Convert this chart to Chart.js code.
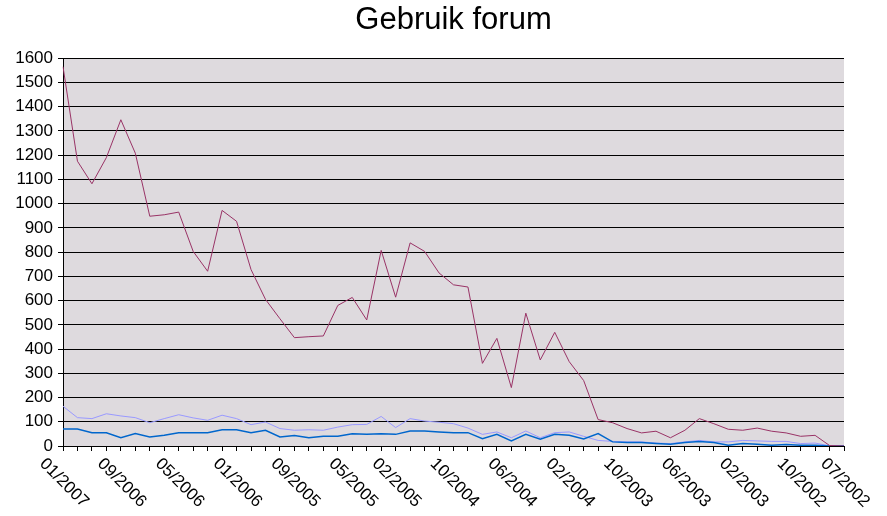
<!DOCTYPE html>
<html>
<head>
<meta charset="utf-8">
<title>Gebruik forum</title>
<script src="https://cdn.jsdelivr.net/npm/chart.js@4/dist/chart.umd.min.js"></script>
<style>
    html, body { margin: 0; padding: 0; background: #ffffff; }
    #wrap { width: 887px; height: 516px; }
</style>
</head>
<body>
<div id="wrap"><canvas id="forumChart" width="887" height="516"></canvas></div>
<script>
// months, newest first (as on the original sheet)
const months = [
    '01/2007',
    '12/2006', '11/2006', '10/2006', '09/2006', '08/2006', '07/2006',
    '06/2006', '05/2006', '04/2006', '03/2006', '02/2006', '01/2006',
    '12/2005', '11/2005', '10/2005', '09/2005', '08/2005', '07/2005',
    '06/2005', '05/2005', '04/2005', '03/2005', '02/2005', '01/2005',
    '12/2004', '11/2004', '10/2004', '09/2004', '08/2004', '07/2004',
    '06/2004', '05/2004', '04/2004', '03/2004', '02/2004', '01/2004',
    '12/2003', '11/2003', '10/2003', '09/2003', '08/2003', '07/2003',
    '06/2003', '05/2003', '04/2003', '03/2003', '02/2003', '01/2003',
    '12/2002', '11/2002', '10/2002', '09/2002', '08/2002', '07/2002'
];

// only these month labels are printed under the axis
const shownLabels = [
    '01/2007', '09/2006', '05/2006', '01/2006', '09/2005', '05/2005', '02/2005',
    '10/2004', '06/2004', '02/2004', '10/2003', '06/2003', '02/2003', '10/2002', '07/2002'
];

const berichten = [
    1565, 1175, 1082, 1190, 1346, 1208, 948, 954, 965, 803,
    721, 972, 927, 728, 605, 525, 447, 451, 454, 580,
    613, 520, 807, 614, 838, 803, 714, 665, 656, 341,
    444, 241, 548, 355, 469, 348, 270, 109, 96, 72,
    54, 61, 34, 65, 113, 92, 69, 65, 74, 61,
    54, 40, 44, 2, 0
];

const onderwerpen = [
    164, 117, 113, 133, 124, 117, 96, 113, 129, 116,
    106, 127, 113, 88, 99, 72, 65, 67, 65, 78,
    88, 89, 122, 76, 113, 103, 98, 92, 74, 48,
    58, 34, 62, 34, 55, 58, 40, 23, 19, 17,
    17, 12, 10, 17, 23, 17, 17, 23, 21, 19,
    19, 10, 12, 1, 0
];

const leden = [
    70, 70, 55, 55, 34, 51, 37, 44, 55, 55,
    55, 67, 67, 55, 65, 37, 43, 34, 40, 40,
    51, 48, 51, 48, 62, 62, 58, 55, 55, 30,
    48, 21, 48, 28, 48, 44, 29, 51, 17, 14,
    14, 10, 7, 14, 19, 14, 3, 10, 7, 3,
    6, 3, 3, 0, 0
];

const yMin = 0;
const yMax = 1600;
const yStep = 100;

const FONT = '"Liberation Sans", Arial, sans-serif';

// grey plot area behind the lines
const plotBackground = {
    id: 'plotBackground',
    beforeDraw(chart) {
        const { ctx, chartArea } = chart;
        ctx.save();
        ctx.fillStyle = '#dedade';
        ctx.fillRect(chartArea.left, chartArea.top,
            chartArea.right - chartArea.left, chartArea.bottom - chartArea.top);
        ctx.restore();
    }
};

// month labels slanting down to the right, centred on their tick
const slantedLabels = {
    id: 'slantedLabels',
    afterDraw(chart) {
        const { ctx } = chart;
        const xScale = chart.scales.x;
        ctx.save();
        ctx.font = '17px ' + FONT;
        ctx.fillStyle = '#000000';
        ctx.textAlign = 'center';
        ctx.textBaseline = 'middle';
        months.forEach((m, i) => {
            if (!shownLabels.includes(m)) return;
            const x = xScale.getPixelForTick(i);
            ctx.save();
            ctx.translate(x + 1, 483);
            ctx.rotate(Math.PI / 4);
            ctx.fillText(m, 0, 0);
            ctx.restore();
        });
        ctx.restore();
    }
};

const ctx = document.getElementById('forumChart').getContext('2d');
const chart = new Chart(ctx, {
    type: 'line',
    data: {
        labels: months,
        datasets: [{
            label: 'Berichten',
            data: berichten,
            borderColor: '#993366',
            borderWidth: 1,
            pointRadius: 0,
            tension: 0,
            order: 0
        }, {
            label: 'Onderwerpen',
            data: onderwerpen,
            borderColor: '#9999ff',
            borderWidth: 1,
            pointRadius: 0,
            tension: 0,
            order: 2
        }, {
            label: 'Leden',
            data: leden,
            borderColor: '#0066cc',
            borderWidth: 1.5,
            pointRadius: 0,
            tension: 0,
            order: 1
        }]
    },
    options: {
        responsive: false,
        animation: false,
        devicePixelRatio: 1,
        layout: {
            padding: { left: 15, right: 43, top: 0, bottom: 65 }
        },
        scales: {
            x: {
                offset: false,
                grid: {
                    display: true,
                    drawOnChartArea: false,
                    drawTicks: true,
                    tickLength: 5,
                    color: '#000000'
                },
                border: { display: true, color: '#000000', width: 1 },
                ticks: { display: false, autoSkip: false }
            },
            y: {
                min: yMin,
                max: yMax,
                afterFit(scale) { scale.width = 48; },
                grid: {
                    color: '#000000',
                    lineWidth: 1,
                    tickLength: 5
                },
                border: { display: true, color: '#000000', width: 1 },
                ticks: {
                    stepSize: yStep,
                    color: '#000000',
                    padding: 5,
                    font: { family: FONT, size: 17 },
                    callback: (value) => String(value)
                }
            }
        },
        plugins: {
            legend: { display: false },
            tooltip: { enabled: false },
            title: {
                display: true,
                text: 'Gebruik forum',
                fullSize: false,
                color: '#000000',
                font: { family: FONT, size: 31, weight: 'normal' },
                padding: { top: 2, bottom: 19 }
            }
        }
    },
    plugins: [plotBackground, slantedLabels]
});
</script>
</body>
</html>
